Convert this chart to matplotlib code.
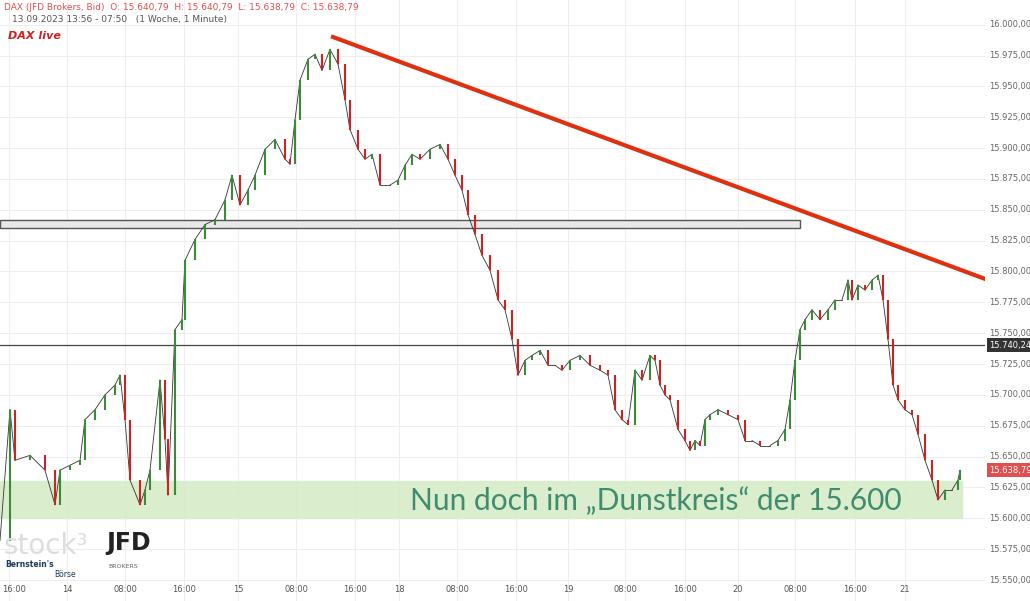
import matplotlib
matplotlib.use("Agg")
import matplotlib.pyplot as plt
import matplotlib.transforms as mtrans

t = [0,10,15,30,45,55,60,70,80,85,95,105,115,120,125,130,140,145,150,160,165,168,175,182,185,195,205,215,225,232,240,248,255,265,275,285,290,295,300,308,315,322,330,338,345,350,358,365,372,380,390,398,405,412,420,430,440,448,455,462,468,475,482,490,498,505,512,518,525,532,540,548,555,562,570,580,590,600,608,615,622,628,635,642,650,655,660,665,670,678,685,690,695,700,705,710,718,728,738,745,752,760,770,778,785,790,795,800,805,812,820,828,835,842,848,852,858,865,872,878,883,888,893,898,905,912,918,925,932,938,945,952,958,960]
close = [15582,15688,15647,15651,15639,15611,15639,15643,15647,15680,15688,15700,15708,15716,15680,15631,15611,15623,15639,15712,15664,15619,15753,15761,15809,15826,15838,15842,15858,15878,15854,15866,15878,15899,15907,15891,15887,15923,15955,15972,15976,15963,15980,15968,15939,15915,15899,15891,15895,15870,15870,15874,15886,15895,15891,15899,15903,15891,15878,15866,15846,15830,15813,15801,15777,15769,15745,15716,15728,15732,15736,15724,15724,15720,15728,15732,15724,15720,15716,15688,15680,15676,15720,15712,15732,15728,15708,15700,15696,15672,15663,15655,15663,15659,15680,15684,15688,15684,15680,15663,15663,15659,15659,15663,15672,15696,15728,15753,15761,15769,15761,15769,15777,15777,15793,15777,15789,15785,15793,15797,15777,15745,15708,15696,15688,15684,15668,15647,15631,15615,15623,15623,15631,15639]
yticks = [15550+25*i for i in range(19)]
xtick_pos = [9,67,125,184,238,296,355,399,457,516,568,625,685,738,795,855,905]
xtick_lab = ["16:00","14","08:00","16:00","15","08:00","16:00","18","08:00","16:00","19","08:00","16:00","20","08:00","16:00","21"]
trend_t = [333, 985]
trend_p = [15990, 15794]
last_price = 15638.79
ref_price = 15740.24

def fmt(v):
    return f"{v:,.2f}".replace(",", "X").replace(".", ",").replace("X", ".")

fig = plt.figure(figsize=(10.30, 6.01), dpi=100)
ax = fig.add_axes([0, 0, 985/1030, 1])
ax.set_xlim(0, 985)
ax.set_ylim(15533, 16020)
for y in yticks:
    ax.axhline(y, color="#eeeeee", lw=0.8, zorder=0)
for x in xtick_pos:
    ax.axvline(x, color="#eeeeee", lw=0.8, zorder=0)
ax.set_xticks([]); ax.set_yticks([])
for s in ax.spines.values():
    s.set_visible(False)

ax.axhspan(15600, 15630, xmin=0, xmax=962/985, color="#d6ecc8", alpha=0.9, zorder=1)
ax.add_patch(plt.Rectangle((0, 15835), 800, 7, fc="#e8e8e8", ec="#555555", lw=1, zorder=2))
ax.axhline(ref_price, color="#444444", lw=0.9, zorder=2)

for i in range(1, len(t)):
    o, c = close[i-1], close[i]
    col = "#3a8a3a" if c >= o else "#cc2222"
    ax.plot([t[i-1], t[i]], [o, c], color="#333333", lw=0.6, zorder=3)
    ax.vlines(t[i], min(o, c), max(o, c), color=col, lw=1.5, zorder=4)

ax.plot(trend_t, trend_p, color="#e03010", lw=3, zorder=5)
ax.text(410, 15614, "Nun doch im „Dunstkreis“ der 15.600", fontsize=21.5, color="#3f8c6e",
        family="Lato", va="center", zorder=6)

for y in yticks:
    fig.text(989/1030, ax.transData.transform((0, y))[1]/601, fmt(y), fontsize=6, color="#666666", va="center")
def box(p, fc):
    fig.text(989/1030, ax.transData.transform((0, p))[1]/601, fmt(p), fontsize=6, color="white", va="center",
             bbox=dict(boxstyle="square,pad=0.3", fc=fc, ec="none"))
box(ref_price, "#333333")
box(last_price, "#e05050")

tr = mtrans.blended_transform_factory(ax.transData, ax.transAxes)
for x, l in zip(xtick_pos, xtick_lab):
    ax.text(max(x, 14), 12/601, l, transform=tr, fontsize=6, color="#555555", ha="center", va="center")

fig.text(0.004, 0.988, "DAX (JFD Brokers, Bid)  O: 15.640,79  H: 15.640,79  L: 15.638,79  C: 15.638,79", fontsize=6.5, color="#e05050", va="center")
fig.text(0.012, 0.968, "13.09.2023 13:56 - 07:50   (1 Woche, 1 Minute)", fontsize=6.5, color="#555555", va="center")
fig.text(0.008, 0.94, "DAX live", fontsize=8, color="#cc2222", fontweight="bold", style="italic", va="center")
fig.text(0.003, 0.092, "stock³", fontsize=20, color="#dddddd", va="center")
fig.text(0.103, 0.096, "JFD", fontsize=17, color="#222222", fontweight="bold", va="center")
fig.text(0.105, 0.058, "BROKERS", fontsize=4.5, color="#666666", va="center")
fig.text(0.005, 0.06, "Bernstein's", fontsize=5.5, color="#1a3a5a", fontweight="bold", va="center")
fig.text(0.053, 0.044, "Börse", fontsize=5.5, color="#1a3a5a", va="center")
fig.savefig("out.png", dpi=100)
